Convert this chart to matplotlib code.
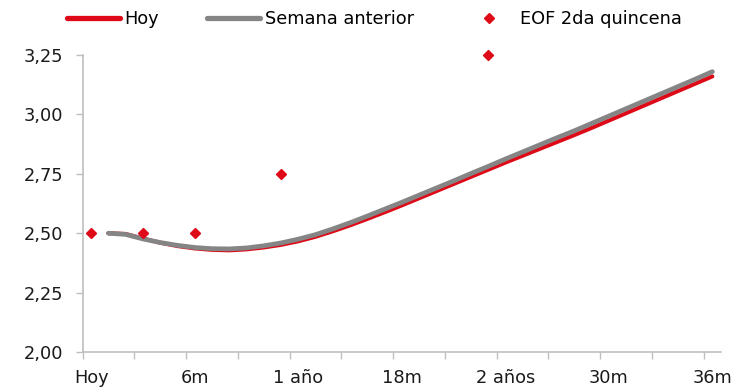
import matplotlib
matplotlib.use("Agg")
import matplotlib.pyplot as plt
from matplotlib import font_manager
from matplotlib.ticker import FixedLocator, FuncFormatter
import numpy as np

# months ahead (category positions on the x axis)
months = list(range(1, 37))
hoy = [2.500, 2.497, 2.478, 2.460, 2.446, 2.436, 2.430, 2.428, 2.432, 2.440,
       2.451, 2.466, 2.485, 2.508, 2.533, 2.560, 2.588, 2.617, 2.647, 2.677,
       2.707, 2.737, 2.767, 2.797, 2.826, 2.855, 2.884, 2.913, 2.943, 2.974,
       3.005, 3.036, 3.067, 3.098, 3.129, 3.160]
semana_ant = [2.500, 2.495, 2.476, 2.461, 2.449, 2.440, 2.435, 2.434, 2.438, 2.447,
              2.459, 2.475, 2.494, 2.518, 2.544, 2.572, 2.601, 2.630, 2.660, 2.690,
              2.720, 2.751, 2.781, 2.812, 2.842, 2.872, 2.902, 2.931, 2.962, 2.993,
              3.024, 3.055, 3.086, 3.117, 3.148, 3.180]

# survey (EOF) expectations
eof_months = [0, 3, 6, 11, 23]
eof_vals = [2.50, 2.50, 2.50, 2.75, 3.25]

tick_pos = [0, 6, 12, 18, 24, 30, 36]
tick_labels = ["Hoy", "6m", "1 año", "18m", "2 años", "30m", "36m"]
y_ticks = [2.00, 2.25, 2.50, 2.75, 3.00, 3.25]

RED = "#DE0A17"
GRAY = "#858585"
AXIS = "#BFBFBF"

names = {f.name for f in font_manager.fontManager.ttflist}
fam = "Liberation Sans Narrow" if "Liberation Sans Narrow" in names else "DejaVu Sans"
plt.rcParams["font.family"] = fam
fs = 14 if fam != "DejaVu Sans" else 12.8

fig = plt.figure(figsize=(7.46, 3.89), dpi=100)
ax = fig.add_axes([0.1106, 0.095, 0.8559, 0.7636])

l1, = ax.plot(months, hoy, color=RED, lw=2.9, solid_capstyle="round",
              solid_joinstyle="round", label="Hoy", zorder=3)
l2, = ax.plot(months, semana_ant, color=GRAY, lw=3.4, solid_capstyle="round",
              solid_joinstyle="round", label="Semana anterior", zorder=4)
l3, = ax.plot(eof_months, eof_vals, ls="none", marker="D", ms=5.6, color=RED,
              mec=RED, label="EOF 2da quincena", zorder=5, clip_on=False)

ax.set_xlim(-0.5, 36.5)
ax.set_ylim(2.0, 3.25)

ax.xaxis.set_major_locator(FixedLocator(tick_pos))
ax.set_xticklabels(tick_labels)
ax.xaxis.set_minor_locator(FixedLocator(np.arange(-0.5, 36, 3)))
ax.tick_params(axis="x", which="major", length=0, pad=12, labelsize=fs, colors="#1a1a1a")
ax.tick_params(axis="x", which="minor", length=5, width=1, color=AXIS)

ax.set_yticks(y_ticks)
ax.yaxis.set_major_formatter(FuncFormatter(lambda v, p: f"{v:.2f}".replace(".", ",")))
ax.tick_params(axis="y", length=5, width=1, color=AXIS, labelsize=fs,
               labelcolor="#1a1a1a", pad=9)

for s in ["top", "right"]:
    ax.spines[s].set_visible(False)
for s in ["left", "bottom"]:
    ax.spines[s].set_color(AXIS)
    ax.spines[s].set_linewidth(1.2)

leg = fig.legend(handles=[l1, l2, l3], loc="upper left", bbox_to_anchor=(0.068, 1.015),
                 ncol=3, frameon=False, fontsize=fs, handlelength=3.0,
                 handletextpad=0.25, columnspacing=2.7)
for h in leg.legend_handles[:2]:
    h.set_linewidth(3.8)

fig.savefig("out.png", dpi=100)
